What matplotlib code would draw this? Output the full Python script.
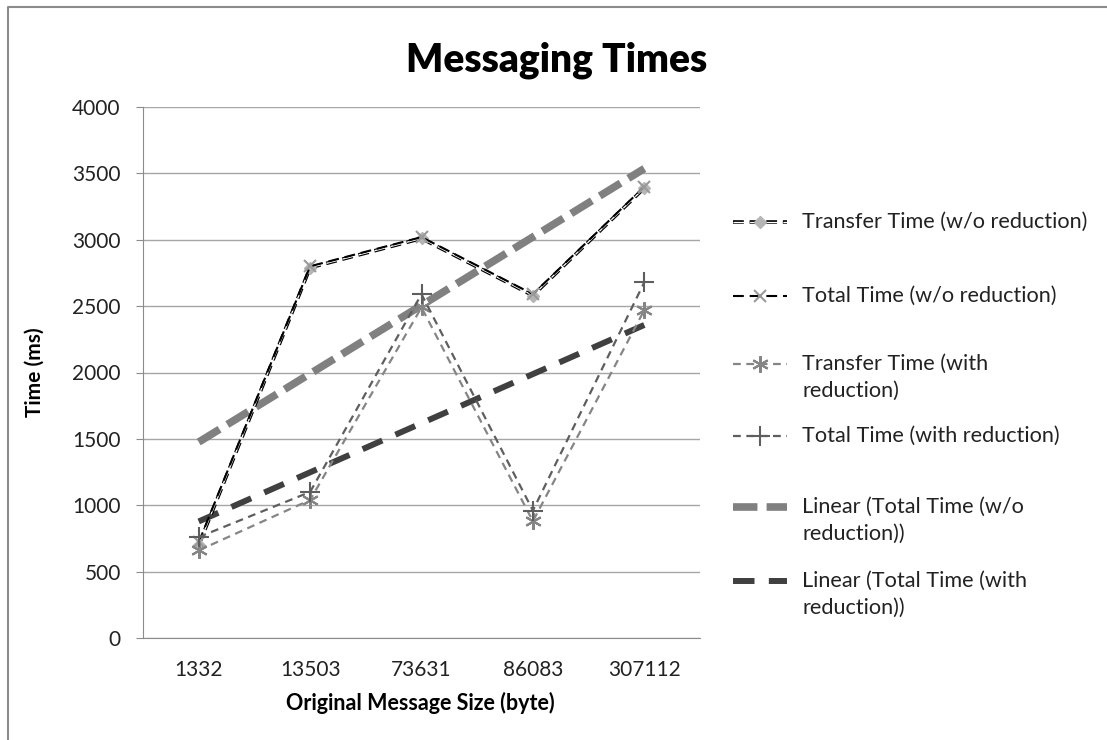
import numpy as np
import matplotlib.pyplot as plt

plt.rcParams['font.family'] = ['Lato', 'DejaVu Sans']

# data
sizes = ['1332', '13503', '73631', '86083', '307112']
transfer_wo = [700, 2790, 3010, 2580, 3390]
total_wo = [720, 2800, 3020, 2590, 3400]
transfer_with = [660, 1040, 2490, 880, 2470]
total_with = [760, 1100, 2590, 960, 2680]

labels = ['Transfer Time (w/o reduction)',
          'Total Time (w/o reduction)',
          'Transfer Time (with\nreduction)',
          'Total Time (with reduction)',
          'Linear (Total Time (w/o\nreduction))',
          'Linear (Total Time (with\nreduction))']

x = np.arange(len(sizes))

# linear trendlines like Excel
fit_wo = np.polyval(np.polyfit(x, total_wo, 1), x)
fit_with = np.polyval(np.polyfit(x, total_with, 1), x)

styles = [
    # transfer w/o : black double line with light diamond
    [dict(color='black', lw=2.6, ls=(0, (3.0, 1.6))),
     dict(color='white', lw=0.9, ls=(0, (8.7, 4.6)), marker='D', ms=6,
          mfc='#b5b5b5', mec='#b5b5b5')],
    [dict(color='black', lw=1.5, ls=(0, (5.2, 2.8)), marker='x', ms=9,
          mec='#9a9a9a', mew=1.5)],
    [dict(color='#858585', lw=1.6, ls=(0, (3.5, 2.5)), marker=(6, 2, 0), ms=12,
          mec='#858585', mew=1.5)],
    [dict(color='#5e5e5e', lw=1.6, ls=(0, (3.5, 2.5)), marker='+', ms=15,
          mec='#5e5e5e', mew=1.5)],
    [dict(color='#808080', lw=5.5, ls=(0, (3.2, 1.2)))],
    [dict(color='#404040', lw=4.3, ls=(0, (3.6, 2.4)))],
]
series = [transfer_wo, total_wo, transfer_with, total_with, fit_wo, fit_with]

fig = plt.figure(figsize=(11.07, 7.4), dpi=100)
ax = fig.add_axes([143 / 1107, 1 - 638 / 740, 557 / 1107, 531 / 740])

order = [4, 5, 0, 1, 2, 3]
for i in order:
    for st in styles[i]:
        ax.plot(x, series[i], solid_capstyle='butt', dash_capstyle='butt', **st)

ax.set_xlim(-0.5, len(sizes) - 0.5)
ax.set_ylim(0, 4000)
ax.set_yticks(np.arange(0, 4001, 500))
ax.set_xticks(x)
ax.set_xticklabels(sizes)
ax.grid(axis='y', color='#a6a6a6', lw=1)
ax.set_axisbelow(True)
for s in ['top', 'right']:
    ax.spines[s].set_visible(False)
for s in ['left', 'bottom']:
    ax.spines[s].set_color('#8c8c8c')
ax.tick_params(axis='y', length=5, color='#8c8c8c', pad=11, labelsize=15, labelcolor='#222222')
ax.tick_params(axis='x', length=0, pad=16, labelsize=15, labelcolor='#222222')

fig.text(557 / 1107, 1 - 60 / 740, 'Messaging Times', ha='center', va='center',
         fontsize=28, fontweight='heavy')
fig.text(35 / 1107, 1 - 372 / 740, 'Time (ms)', ha='center', va='center',
         rotation=90, fontsize=15, fontweight='bold')
fig.text(420 / 1107, 1 - 703 / 740, 'Original Message Size (byte)', ha='center',
         va='center', fontsize=15.5, fontweight='bold')

# overlay in pixel coordinates for legend and border
lax = fig.add_axes([0, 0, 1, 1])
lax.set_xlim(0, 1107)
lax.set_ylim(740, 0)
lax.axis('off')
lax.patch.set_visible(False)

lax.plot([8, 8, 1107], [740, 7, 7], color='#8c8c8c', lw=1.5)

leg_y = [222, 296, 364, 436, 507, 581]
for i, y in enumerate(leg_y):
    for st in styles[i]:
        lax.plot([733, 760, 787], [y, y, y], markevery=[1], solid_capstyle='butt',
                 dash_capstyle='butt', **st)
    for k, line in enumerate(labels[i].split('\n')):
        lax.text(802, y + k * 27, line, va='center', ha='left', fontsize=15.6,
                 color='#222222')

fig.savefig('out.png', dpi=100)
